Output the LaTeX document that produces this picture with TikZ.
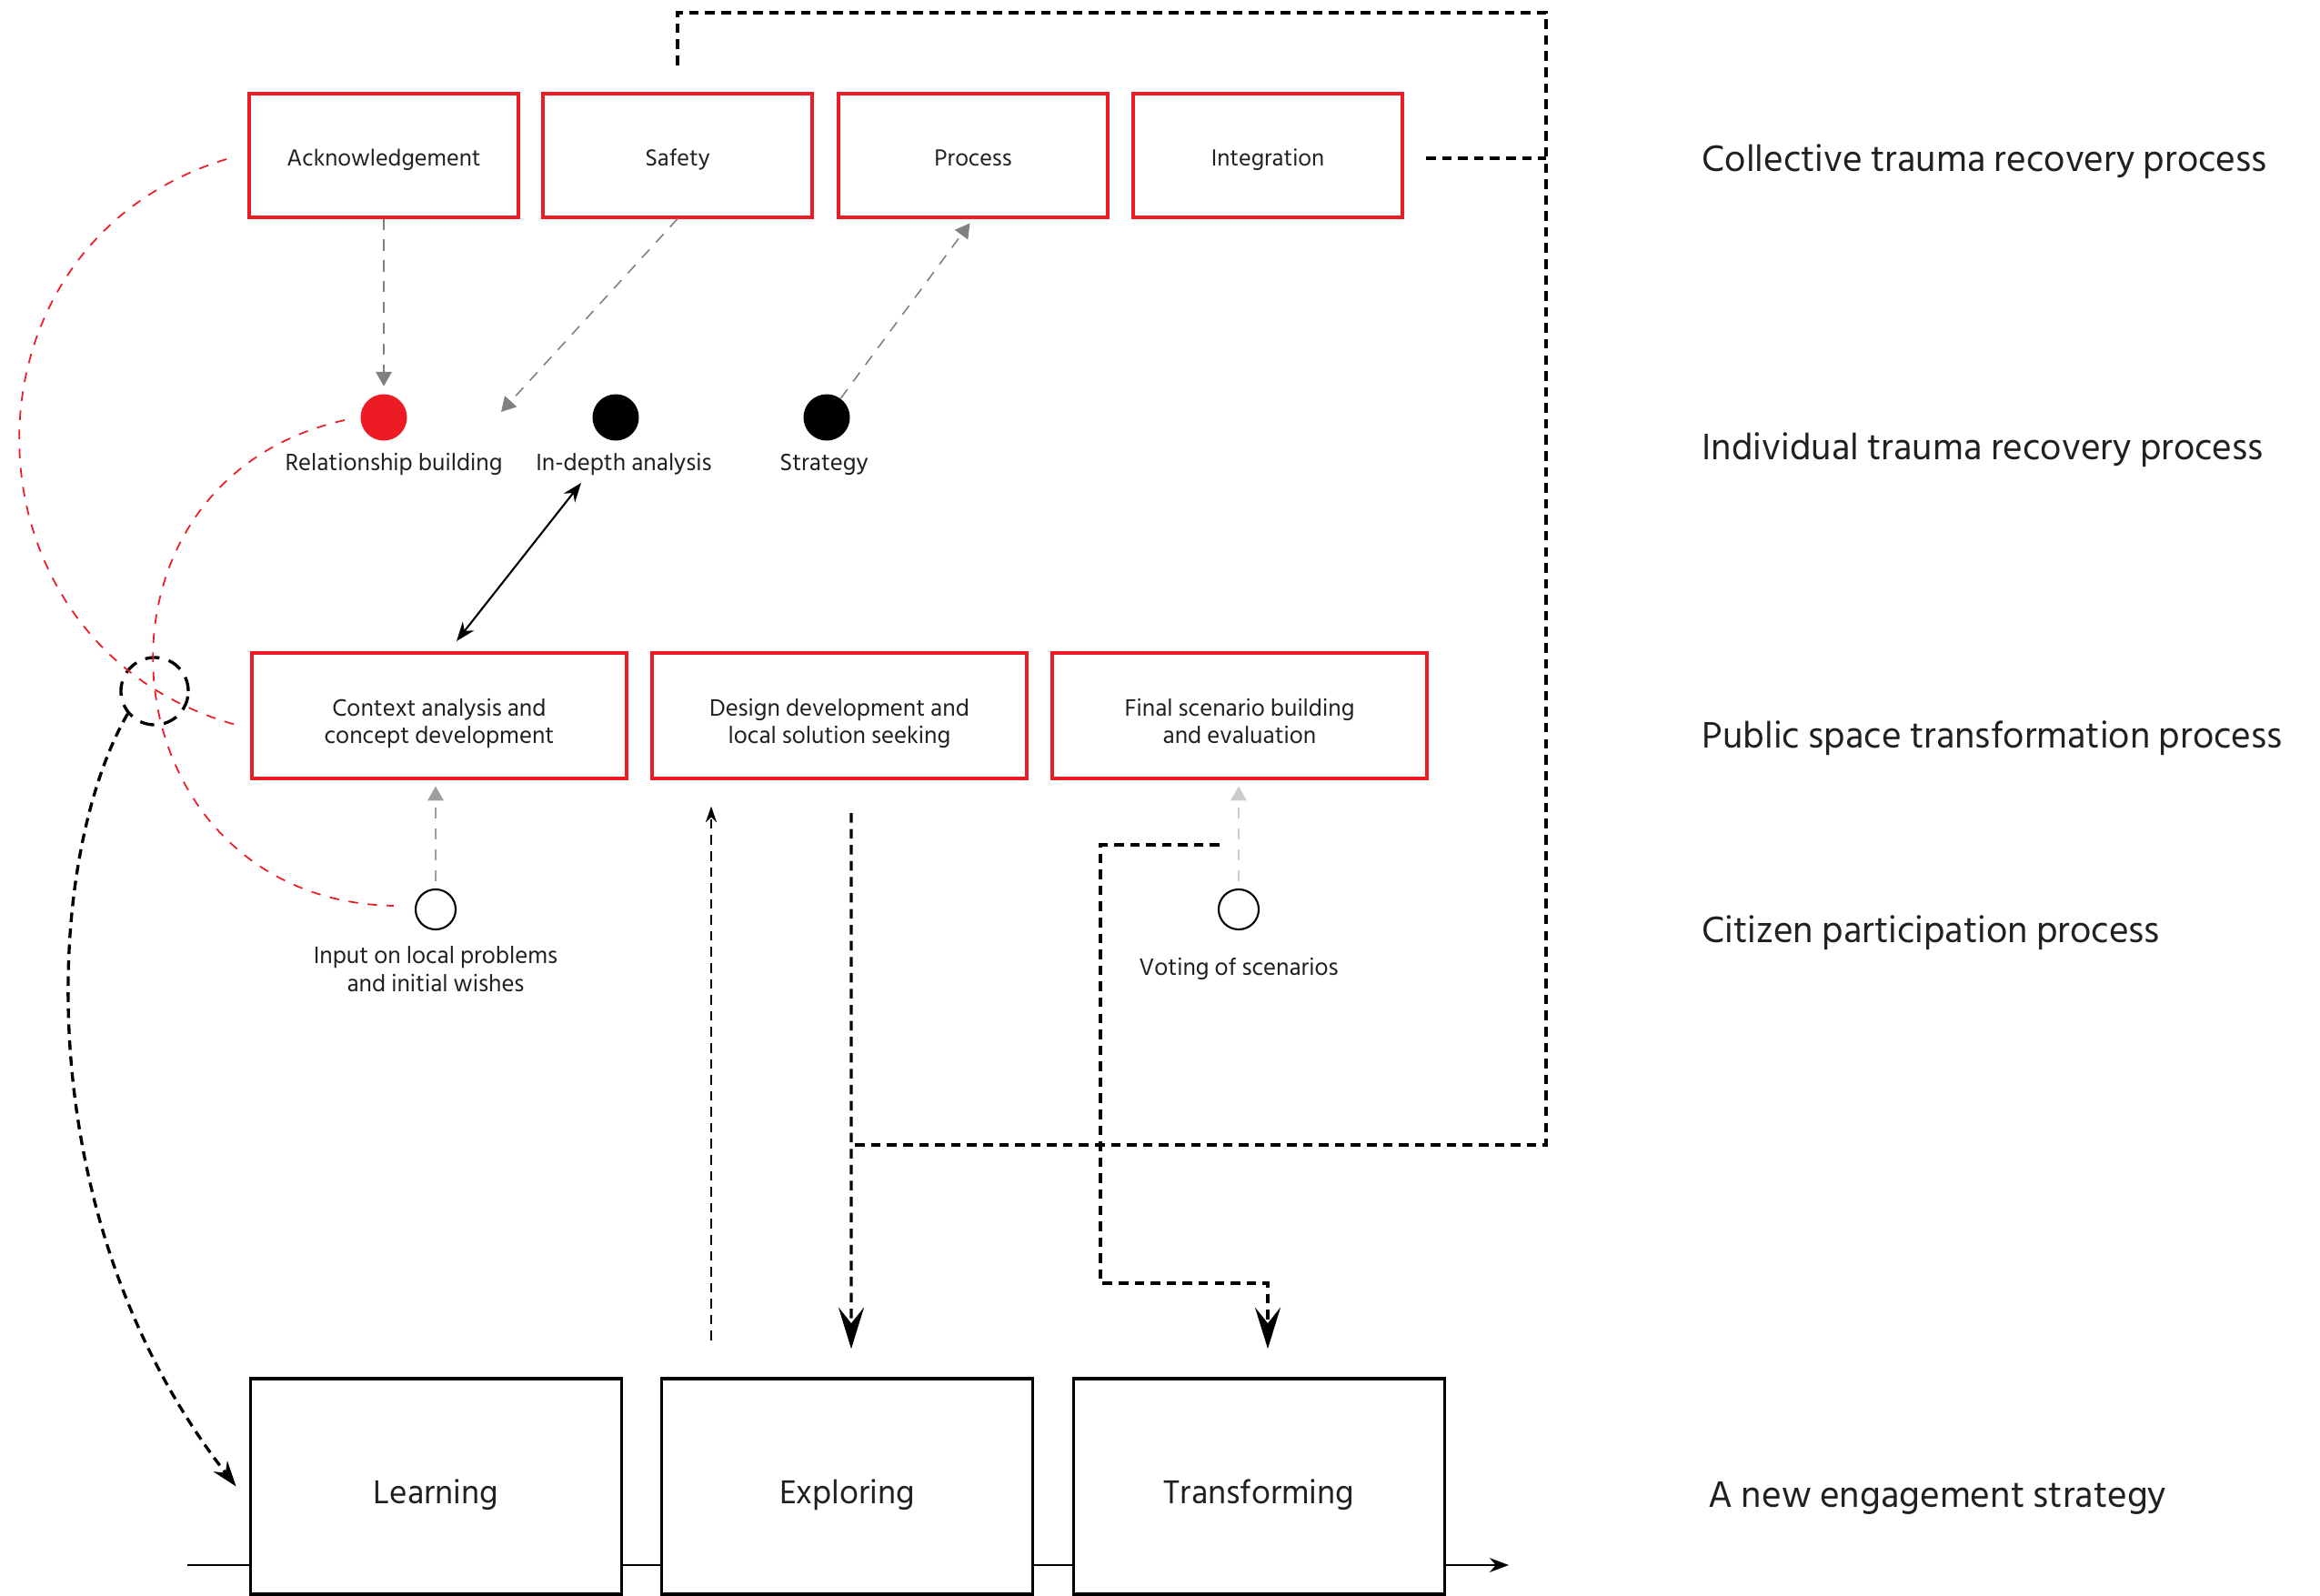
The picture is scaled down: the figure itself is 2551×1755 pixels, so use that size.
\documentclass[tikz,border=0pt]{standalone}
\usepackage{fontspec}
\setmainfont{Hind Siliguri}
\usetikzlibrary{arrows.meta}
\definecolor{boxred}{HTML}{ED1C24}
\definecolor{ink}{HTML}{231F20}

\begin{document}
\begin{tikzpicture}[x=0.01cm, y=0.01cm]
   \tikzstyle{redbox}=[draw=boxred, line width=1.15pt, minimum width=2.96cm, minimum height=1.35cm, inner sep=0, text=ink, font=\fontsize{7.45}{8.8}\selectfont, align=center, text height=6.8pt, text depth=0pt]
   \tikzstyle{widebox}=[redbox, minimum width=4.12cm, minimum height=1.37cm, font=\fontsize{7.6}{8.8}\selectfont, text height=17.6pt, text depth=0pt]
   \tikzstyle{stagebox}=[draw=black, line width=1pt, fill=white, minimum width=4.08cm, minimum height=2.37cm, text=ink, font=\fontsize{10.6}{12}\selectfont, text height=10.7pt, text depth=0pt]
   \tikzstyle{dot}=[circle, inner sep=0, minimum size=0.51cm]
   \tikzstyle{ring}=[circle, draw=black, line width=0.6pt, inner sep=0, minimum size=0.44cm]
   \tikzstyle{dotlabel}=[text=ink, font=\fontsize{7.6}{8.8}\selectfont, align=center, inner sep=0]
   \tikzstyle{lane}=[anchor=west, text=ink, font=\fontsize{11.8}{13}\selectfont, inner sep=0]
   \tikzstyle{grayarrow}=[draw=gray, line width=0.45pt, dash pattern=on 3.5pt off 3pt, -{Triangle[length=4.5pt,width=5pt]}]
   \tikzstyle{reddash}=[draw=boxred, line width=0.5pt, dash pattern=on 3pt off 3pt]
   \tikzstyle{feedback}=[line width=0.95pt, dash pattern=on 3pt off 2pt]
   \tikzstyle{bighead}=[-{Stealth[length=13pt,width=8pt,inset=5pt]}]

\useasboundingbox (0,0) rectangle (2551,-1755);

\node[redbox] (ack) at (422,-171) {Acknowledgement};
\node[redbox] (saf) at (745,-171) {Safety};
\node[redbox] (proc) at (1070,-171) {Process};
\node[redbox] (integ) at (1394,-171) {Integration};

\node[dot, fill=boxred] (rb) at (422,-459) {};
\node[dot, fill=black] (ida) at (677,-459) {};
\node[dot, fill=black] (strat) at (909,-459) {};
\node[dotlabel] (rbLbl) at (433,-511) {Relationship building};
\node[dotlabel] (idaLbl) at (686,-511) {In-depth analysis};
\node[dotlabel] (stratLbl) at (906,-511) {Strategy};

\node[widebox] (ctx) at (483,-787) {Context analysis and\\concept development};
\node[widebox] (des) at (923,-787) {Design development and\\local solution seeking};
\node[widebox] (fin) at (1363,-787) {Final scenario building\\and evaluation};

\node[ring] (inp) at (479,-1000) {};
\node[ring] (vote) at (1362,-1000) {};
\node[dotlabel] (inpLbl) at (479,-1066) {Input on local problems\\and initial wishes};
\node[dotlabel] (voteLbl) at (1362,-1065) {Voting of scenarios};

\node[circle, draw, feedback, dash pattern=on 4.5pt off 3pt, minimum size=0.74cm, inner sep=0] (hub) at (170,-760) {};

\coordinate (axisStart) at (206,-1721);
\coordinate (axisEnd) at (1659,-1721);
\draw[line width=0.5pt, -{Stealth[length=6pt,width=4.5pt]}] (axisStart) -- (axisEnd);

\node[stagebox] (learn) at (479.5,-1634.5) {Learning};
\node[stagebox] (expl) at (931.5,-1634.5) {Exploring};
\node[stagebox] (trans) at (1384.5,-1634.5) {Transforming};

\node[lane] (lane1) at (1871,-178) {Collective trauma recovery process};
\node[lane] (lane2) at (1871,-495) {Individual trauma recovery process};
\node[lane] (lane3) at (1871,-812) {Public space transformation process};
\node[lane] (lane4) at (1871,-1026) {Citizen participation process};
\node[lane] (lane5) at (1878,-1647) {A new engagement strategy};

\coordinate (safEnd) at (551,-453);
\draw[grayarrow, shorten >=2.3pt] (ack.south) -- (rb.north);
\draw[grayarrow] (saf.south) -- (safEnd);
\draw[grayarrow, shorten >=1.7pt] (strat) -- (proc.south);
\draw[grayarrow, draw=gray!75, shorten <=2.3pt, shorten >=2pt] (inp.north) -- (inp.north |- ctx.south);
\draw[grayarrow, draw=gray!40, shorten <=2.3pt, shorten >=2pt] (vote.north) -- (vote.north |- fin.south);

\coordinate (idaTip) at (639,-531);
\coordinate (ctxTip) at (502,-705);
\draw[line width=0.6pt, {Stealth[length=6pt,width=4.5pt]}-{Stealth[length=6pt,width=4.5pt]}] (idaTip) -- (ctxTip);

\coordinate (ackIn) at (249,-175);
\coordinate (ctxIn) at (263,-798);
\draw[reddash] (ackIn) to[out=197, in=165, looseness=1.335] (ctxIn);
\coordinate (rbOut) at (379,-462);
\coordinate (inpIn) at (433,-996);
\draw[reddash] (rbOut) to[out=192.6, in=179, looseness=1.52] (inpIn);

\draw[feedback, -{Stealth[length=8pt,width=5.5pt]}] (hub.220) .. controls +(240:186) and +(128:374) .. ([xshift=-0.14cm]learn.west);

\coordinate (upFoot) at (782,-1474);
\draw[line width=0.55pt, dash pattern=on 3pt off 2pt, -{Stealth[length=5pt,width=3.5pt]}, shorten >=8.3pt] (upFoot) -- (upFoot |- des.south);

\coordinate (expTop) at (936,-894);
\draw[feedback, bighead, shorten >=8.8pt] (expTop) -- ([xshift=0.045cm]expl.north);

\coordinate (loopTR) at (1700,-14);
\coordinate (loopBR) at (1700,-1259);
\coordinate (loopEnd) at (939,-1259);
\draw[feedback, shorten <=8.5pt] (saf.north) |- (loopTR) -- (loopBR) -- (loopEnd);
\draw[feedback, shorten <=6.8pt] ([yshift=-0.03cm]integ.east) -- ([yshift=-0.03cm]integ.east -| loopTR);

\coordinate (voteLeft) at (1341,-929);
\coordinate (voteDrop) at (1210,-1411);
\draw[feedback, bighead, shorten >=8.8pt] (voteLeft) -| (voteDrop) -| ([xshift=0.095cm]trans.north);

\end{tikzpicture}
\end{document}
